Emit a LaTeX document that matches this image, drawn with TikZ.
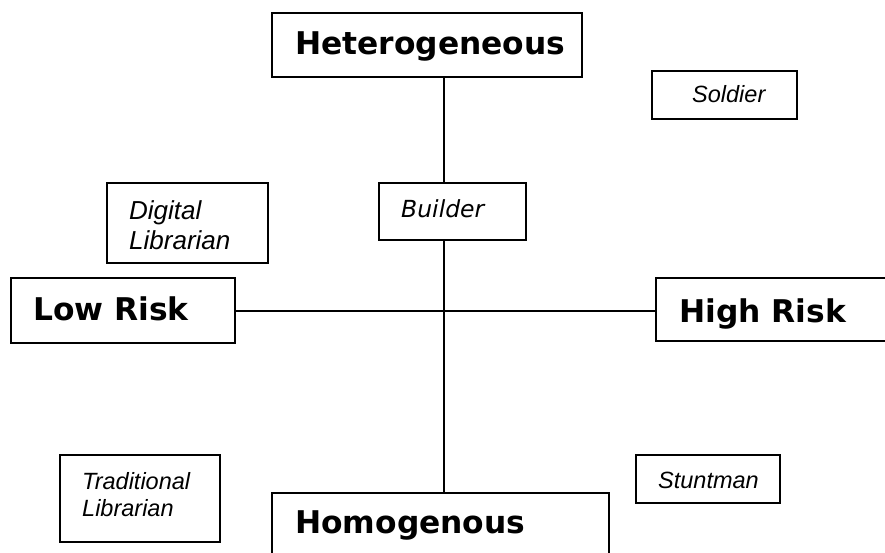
\documentclass[tikz,border=0pt]{standalone}
\usepackage{fontspec}
\setmainfont{Liberation Sans}
\newfontfamily\dejavu{DejaVu Sans}
\tikzset{
  box/.style={draw=black, line width=1.5pt, rectangle, inner sep=0pt, fill=white},
  axis/.style={draw=black, line width=1.5pt},
  bigtxt/.style={anchor=base west, inner sep=0pt, font=\dejavu\bfseries\fontsize{31.3}{37}\selectfont},
  smalltxt/.style={anchor=base west, inner sep=0pt, font=\itshape\fontsize{23.5}{27}\selectfont},
  buildtxt/.style={anchor=base west, inner sep=0pt, font=\dejavu\itshape\fontsize{23.5}{27}\selectfont},
}
\begin{document}
\begin{tikzpicture}[x=1pt,y=-1pt]
\useasboundingbox (0,0) rectangle (885,553);
\clip (0,0) rectangle (885,553);
\fill[white] (0,0) rectangle (885,553);
% guide coordinates for the axes
\coordinate (vx) at (444,0);
\coordinate (hy) at (0,311);
% boxes
\node[box, minimum width=310pt, minimum height=64pt] (het) at (427,45) {};
\node[box, minimum width=147pt, minimum height=57pt] (bld) at (452.5,211.5) {};
\node[box, minimum width=145pt, minimum height=48pt] (sol) at (724.5,95) {};
\node[box, minimum width=161pt, minimum height=80pt] (dig) at (187.5,223) {};
\node[box, minimum width=224pt, minimum height=65pt] (low) at (123,310.5) {};
\node[box, minimum width=264pt, minimum height=63pt] (high) at (788,309.5) {};
\node[box, minimum width=160pt, minimum height=87pt] (trad) at (140,498.5) {};
\node[box, minimum width=144pt, minimum height=48pt] (stu) at (708,479) {};
\node[box, minimum width=337pt, minimum height=67pt] (hom) at (440.5,526.5) {};
% connectors
\draw[axis] (het.south -| vx) -- (bld.north -| vx);
\draw[axis] (bld.south -| vx) -- (hom.north -| vx);
\draw[axis] (low.east |- hy) -- (high.west |- hy);
% texts
\node[bigtxt] (hett) at (295,55) {Heterogeneous};
\node[bigtxt] (lowt) at (33,320) {Low Risk};
\node[bigtxt] (hight) at (679,322) {High Risk};
\node[bigtxt] (homt) at (295,533) {Homogenous};
\node[buildtxt] (bldt) at (401,218) {Builder};
\node[smalltxt] (solt) at (692,103) {Soldier};
\node[smalltxt] (stut) at (658,488) {Stuntman};
\node[anchor=base west, inner sep=0pt, font=\itshape\fontsize{26}{30}\selectfont] (digt) at (129,219)
  {\begin{tabular}[t]{@{}l@{}}Digital\\Librarian\end{tabular}};
\node[smalltxt] (tradt) at (82,489)
  {\begin{tabular}[t]{@{}l@{}}Traditional\\Librarian\end{tabular}};
\end{tikzpicture}
\end{document}
